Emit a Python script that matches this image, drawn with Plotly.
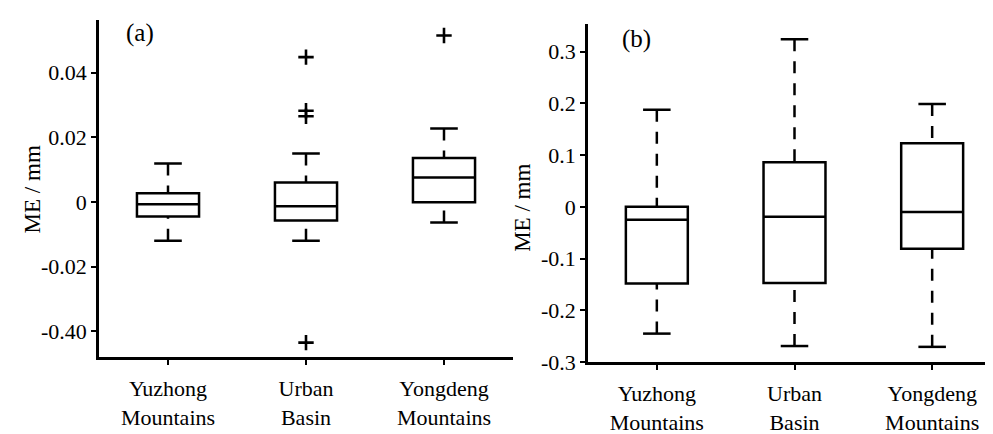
import plotly.graph_objects as go

categories = ["Yuzhong<br>Mountains", "Urban<br>Basin", "Yongdeng<br>Mountains"]

# Panel (a)
a_upper = [0.0119, 0.0150, 0.0227]
a_q3 = [0.0027, 0.0060, 0.0136]
a_median = [-0.0007, -0.0013, 0.0076]
a_q1 = [-0.0045, -0.0057, -0.0001]
a_lower = [-0.0120, -0.0120, -0.0063]
a_out_x = [1, 1, 1, 1, 2]
a_out_y = [0.0448, 0.0282, 0.0265, -0.0435, 0.0515]
a_tickvals = [0.04, 0.02, 0, -0.02, -0.04]
a_ticktext = ["0.04", "0.02", "0", "-0.02", "-0.40"]

# Panel (b)
b_upper = [0.1875, 0.324, 0.199]
b_q3 = [0.0, 0.086, 0.123]
b_median = [-0.025, -0.019, -0.010]
b_q1 = [-0.148, -0.147, -0.081]
b_lower = [-0.245, -0.269, -0.2706]
b_tickvals = [0.3, 0.2, 0.1, 0, -0.1, -0.2, -0.3]
b_ticktext = ["0.3", "0.2", "0.1", "0", "-0.1", "-0.2", "-0.3"]

FONT = "Liberation Serif"
FS = 22
LW = 2.5
CAP = 0.1

fig = go.Figure()


def add_panel(xa, ya, upper, q3, med, q1, lower):
    pos = list(range(len(categories)))
    fig.add_trace(go.Box(
        x=pos, q1=q1, median=med, q3=q3, lowerfence=q1, upperfence=q3,
        width=0.45, whiskerwidth=0, fillcolor="rgba(0,0,0,0)",
        line=dict(color="black", width=LW), boxpoints=False,
        xaxis=xa, yaxis=ya, showlegend=False, hoverinfo="skip"))
    wx, wy, cx, cy = [], [], [], []
    for i in pos:
        wx += [i, i, None, i, i, None]
        wy += [upper[i], q3[i], None, lower[i], q1[i], None]
        cx += [i - CAP, i + CAP, None, i - CAP, i + CAP, None]
        cy += [upper[i], upper[i], None, lower[i], lower[i], None]
    fig.add_trace(go.Scatter(x=wx, y=wy, mode="lines",
                             line=dict(color="black", width=LW, dash="12px,10px"),
                             xaxis=xa, yaxis=ya, showlegend=False, hoverinfo="skip"))
    fig.add_trace(go.Scatter(x=cx, y=cy, mode="lines",
                             line=dict(color="black", width=LW),
                             xaxis=xa, yaxis=ya, showlegend=False, hoverinfo="skip"))


add_panel("x", "y", a_upper, a_q3, a_median, a_q1, a_lower)
fig.add_trace(go.Scatter(x=a_out_x, y=a_out_y, mode="markers",
                         marker=dict(symbol="cross-thin", size=11,
                                     line=dict(color="black", width=2.6)),
                         xaxis="x", yaxis="y", showlegend=False, hoverinfo="skip"))
add_panel("x2", "y2", b_upper, b_q3, b_median, b_q1, b_lower)

W, H = 993, 434
tf = dict(family=FONT, size=FS, color="black")
axis_common = dict(showline=True, linecolor="black", linewidth=2.5, ticks="outside",
                   ticklen=5, tickwidth=2, tickcolor="black", showgrid=False,
                   zeroline=False, mirror=False, tickfont=tf)

ann = dict(xref="paper", yref="paper", showarrow=False,
           xanchor="center", yanchor="middle")
lab_font = dict(family=FONT, size=25, color="black")
title_font = dict(family=FONT, size=23, color="black")

fig.update_layout(
    width=W, height=H,
    font=tf,
    margin=dict(l=0, r=0, t=0, b=0),
    paper_bgcolor="white", plot_bgcolor="white",
    xaxis=dict(domain=[91 / W, 505 / W], range=[-0.5, 2.5], tickvals=[0, 1, 2],
               ticktext=categories, anchor="y", ticklabelstandoff=5, **axis_common),
    yaxis=dict(domain=[(H - 360) / H, (H - 12) / H], range=[-0.048, 0.0564],
               tickvals=a_tickvals, ticktext=a_ticktext, anchor="x", **axis_common),
    xaxis2=dict(domain=[580 / W, 1.0], range=[-0.5, 2.5], tickvals=[0, 1, 2],
                ticktext=categories, anchor="y2", ticklabelstandoff=5, **axis_common),
    yaxis2=dict(domain=[(H - 365) / H, (H - 16) / H], range=[-0.3, 0.3544],
                tickvals=b_tickvals, ticktext=b_ticktext, anchor="x2", **axis_common),
    annotations=[
        dict(text="(a)", x=132 / W, y=1 - 26 / H, font=lab_font, **ann),
        dict(text="(b)", x=628 / W, y=1 - 32 / H, font=lab_font, **ann),
        dict(text="ME / mm", x=24 / W, y=1 - 187 / H, textangle=-90, font=title_font, **ann),
        dict(text="ME / mm", x=515 / W, y=1 - 206 / H, textangle=-90, font=title_font, **ann),
    ],
)

fig.write_html("out.html")
